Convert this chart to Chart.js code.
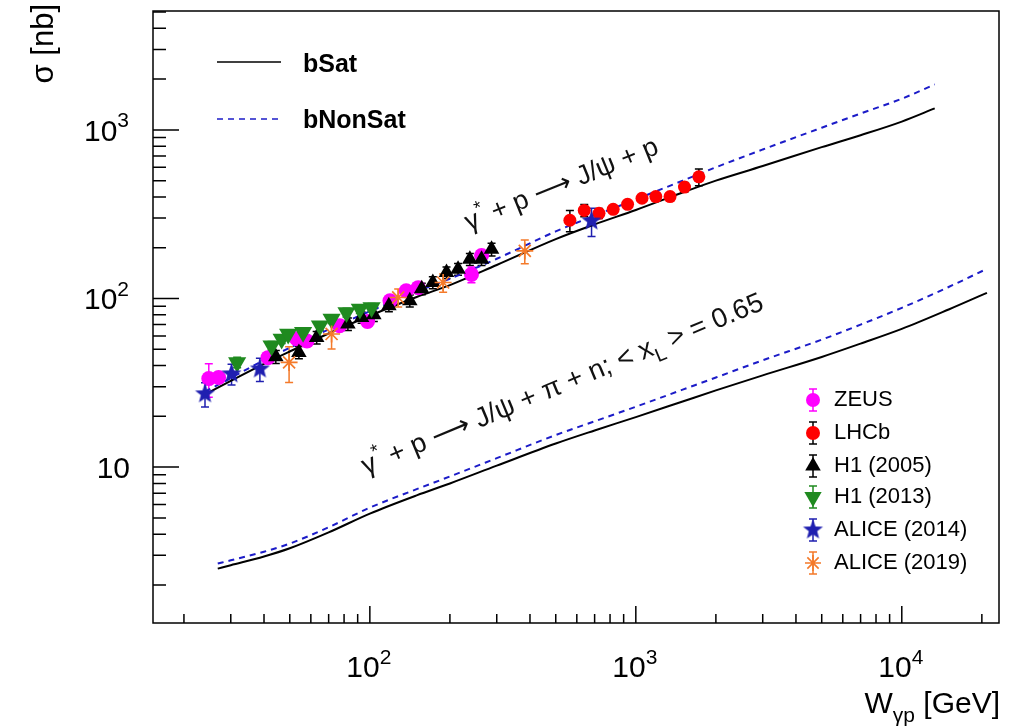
<!DOCTYPE html>
<html>
<head>
<meta charset="utf-8">
<script src="https://cdn.jsdelivr.net/npm/chart.js"></script>
<style>
  html, body { margin: 0; padding: 0; background: #fff; }
  #wrap { width: 1018px; height: 727px; }
</style>
</head>
<body>
<div id="wrap"><canvas id="chart"></canvas></div>
<script>
// ---- data (W in GeV, sigma in nb) ----
const upperW      = [24, 30, 40, 50, 70, 100, 150, 200, 300, 500, 700, 1000, 1500, 2000, 3000, 5000, 7000, 10000, 13300];
const upperSat    = [27, 32.5, 41, 48.5, 62, 79, 102, 120, 158, 225, 275, 335, 425, 500, 610, 790, 930, 1120, 1340];
const upperNonSat = [28, 33.8, 43, 51, 65.5, 84, 110, 131, 172, 250, 310, 387, 500, 600, 765, 1030, 1250, 1530, 1860];

const lowerW      = [26.8, 30, 40, 50, 70, 100, 150, 200, 300, 500, 700, 1000, 1500, 2000, 3000, 5000, 7000, 10000, 15000, 20900];
const lowerSat    = [2.5, 2.62, 2.95, 3.3, 4.1, 5.3, 6.8, 8.0, 10.2, 13.8, 16.5, 19.8, 24.5, 28.5, 35, 45, 54, 66, 86, 108];
const lowerNonSat = [2.68, 2.8, 3.15, 3.52, 4.4, 5.75, 7.4, 8.8, 11.3, 15.5, 18.7, 22.8, 28.8, 34, 43, 57, 70, 88, 117, 150];

const zeusW   = [24.8, 27, 41.4, 53, 58, 77, 98, 119, 137, 152, 241, 263];
const zeusSig = [33.5, 34, 44.6, 57.8, 56, 69, 73, 97, 111, 116, 139, 180];
const zeusErr = [7.5, 2.5, 3, 4, 4, 4.5, 5, 6, 7, 8, 15, 12];

const lhcbW   = [565, 640, 727, 822, 931, 1055, 1189, 1345, 1524, 1726];
const lhcbSig = [291, 333, 320, 338, 362, 393, 402, 402, 458, 527];
const lhcbErr = [42, 28, 22, 15, 15, 15, 17, 17, 30, 60];

const h105W   = [44.3, 54.1, 63.1, 82.7, 93.1, 103.5, 117.9, 141.3, 156.7, 172.5, 194.2, 214.6, 237.7, 263, 286.8];
const h105Sig = [45.2, 47.9, 58.8, 70.6, 77.2, 80.1, 90.5, 96.9, 114.1, 124.4, 142.5, 149.3, 171, 171, 195.9];
const h105Err = [4, 4, 5, 6, 6, 7, 7, 8, 9, 10, 11, 12, 14, 14, 17];

const h113W   = [31.7, 42.7, 46.6, 49.3, 56.1, 64.9, 71.8, 81.7, 91.7, 101.5];
const h113Sig = [41.8, 52.5, 57.5, 61.6, 63.0, 68.9, 75.5, 82.6, 86.5, 88.4];
const h113Err = [3, 3, 3.5, 3.5, 4, 4, 4.5, 5, 5, 5];

const al14W   = [24.0, 30.2, 38.6, 681.6];
const al14Sig = [27.2, 35.7, 38.2, 288];
const al14Err = [4.5, 5, 6, 55];

const al19W   = [49.7, 71.8, 127.8, 188.6, 382.4];
const al19Sig = [41.8, 61.6, 101.4, 124.4, 191.5];
const al19Err = [10, 11.5, 12.5, 15.5, 31];

const xMajorTicks = [100, 1000, 10000];
const xMinorTicks = [20, 30, 40, 50, 60, 70, 80, 90, 200, 300, 400, 500, 600, 700, 800, 900,
                     2000, 3000, 4000, 5000, 6000, 7000, 8000, 9000, 20000];
const xTickLabels = [["10", "2"], ["10", "3"], ["10", "4"]];
const yMajorTicks = [10, 100, 1000];
const yMinorTicks = [2, 3, 4, 5, 6, 7, 8, 9, 20, 30, 40, 50, 60, 70, 80, 90,
                     200, 300, 400, 500, 600, 700, 800, 900, 2000, 3000, 4000, 5000];
const yTickLabels = [["10", ""], ["10", "2"], ["10", "3"]];

const FONT = '"Liberation Sans", Arial, Helvetica, "DejaVu Sans", sans-serif';
const MAGENTA = "#ff00ff", RED = "#ff0000", GREEN = "#1f8a1f", BLUE = "#1f1fb0", ORANGE = "#f47a2a", DBLUE = "#1c1cc8";

const pts = (xs, ys) => xs.map((v, i) => ({x: v, y: ys[i]}));

// filled five-pointed star used for ALICE (2014)
function makeStar(r, color) {
    const c = document.createElement("canvas");
    c.width = c.height = Math.ceil(2 * r + 2);
    const g = c.getContext("2d");
    g.fillStyle = color;
    g.beginPath();
    for (let k = 0; k < 10; k++) {
        const rad = k % 2 ? r * 0.42 : r;
        const a = -Math.PI / 2 + k * Math.PI / 5;
        g.lineTo(c.width / 2 + rad * Math.cos(a), c.height / 2 + rad * Math.sin(a));
    }
    g.closePath();
    g.fill();
    return c;
}
const starImg = makeStar(10.5, BLUE);

function rich(ctx, x, y, parts, size, align, bold) {
    const w8 = bold ? "bold " : "";
    let total = 0;
    const seg = parts.map(([t, m]) => {
        const fs = m ? size * 0.7 : size;
        ctx.font = `${w8}${fs}px ${FONT}`;
        const w = ctx.measureText(t).width;
        total += w;
        return {t, m, fs, w};
    });
    let cx = align === "right" ? x - total : align === "center" ? x - total / 2 : x;
    seg.forEach(s => {
        ctx.font = `${w8}${s.fs}px ${FONT}`;
        const dy = s.m === "sup" ? -size * 0.45 : s.m === "sub" ? size * 0.3 : 0;
        ctx.fillText(s.t, cx, y + dy);
        cx += s.w;
    });
    return total;
}

function marker(ctx, kind, x, y, color) {
    ctx.fillStyle = color;
    ctx.strokeStyle = color;
    ctx.beginPath();
    if (kind === "circle") {
        ctx.arc(x, y, 7, 0, Math.PI * 2);
        ctx.fill();
    } else if (kind === "up" || kind === "down") {
        const r = kind === "up" ? 9 : 10, s = kind === "up" ? -1 : 1;
        for (let k = 0; k < 3; k++) {
            const a = k * 2 * Math.PI / 3;
            ctx.lineTo(x + Math.sin(a) * r, y + s * Math.cos(a) * r);
        }
        ctx.closePath();
        ctx.fill();
    } else if (kind === "star") {
        ctx.drawImage(starImg, x - starImg.width / 2, y - starImg.height / 2);
    } else {
        ctx.lineWidth = 1.6;
        for (let k = 0; k < 4; k++) {
            const a = k * Math.PI / 4;
            ctx.moveTo(x - 8 * Math.cos(a), y - 8 * Math.sin(a));
            ctx.lineTo(x + 8 * Math.cos(a), y + 8 * Math.sin(a));
        }
        ctx.stroke();
    }
}

const errorBars = {
    id: "errorBars",
    beforeDatasetsDraw(chart) {
        const {ctx, scales: {x, y}} = chart;
        ctx.save();
        ctx.lineWidth = 1.5;
        chart.data.datasets.forEach(ds => {
            if (!ds.errors) return;
            ctx.strokeStyle = ds.errorColor;
            ds.data.forEach((p, i) => {
                const px = x.getPixelForValue(p.x);
                const top = y.getPixelForValue(p.y + ds.errors[i]);
                const bot = y.getPixelForValue(p.y - ds.errors[i]);
                ctx.beginPath();
                ctx.moveTo(px, top); ctx.lineTo(px, bot);
                ctx.moveTo(px - 4, top); ctx.lineTo(px + 4, top);
                ctx.moveTo(px - 4, bot); ctx.lineTo(px + 4, bot);
                ctx.stroke();
            });
        });
        ctx.restore();
    }
};

const frameAndText = {
    id: "frameAndText",
    afterDraw(chart) {
        const {ctx, chartArea: a, scales: {x, y}} = chart;
        ctx.save();
        ctx.strokeStyle = "#000";
        ctx.fillStyle = "#000";
        ctx.lineWidth = 1.5;
        ctx.strokeRect(a.left, a.top, a.right - a.left, a.bottom - a.top);

        ctx.beginPath();
        xMajorTicks.forEach(v => { const p = x.getPixelForValue(v); ctx.moveTo(p, a.bottom); ctx.lineTo(p, a.bottom - 17); });
        xMinorTicks.forEach(v => { const p = x.getPixelForValue(v); ctx.moveTo(p, a.bottom); ctx.lineTo(p, a.bottom - 9); });
        yMajorTicks.forEach(v => { const p = y.getPixelForValue(v); ctx.moveTo(a.left, p); ctx.lineTo(a.left + 26, p); });
        yMinorTicks.forEach(v => { const p = y.getPixelForValue(v); ctx.moveTo(a.left, p); ctx.lineTo(a.left + 13, p); });
        ctx.stroke();

        ctx.textBaseline = "alphabetic";
        xMajorTicks.forEach((v, i) => {
            rich(ctx, x.getPixelForValue(v) - 1, 677, [[xTickLabels[i][0], ""], [xTickLabels[i][1], "sup"]], 30, "center");
        });
        yMajorTicks.forEach((v, i) => {
            const lab = yTickLabels[i];
            rich(ctx, lab[1] ? 129 : 130, y.getPixelForValue(v) + 11, lab[1] ? [[lab[0], ""], [lab[1], "sup"]] : [[lab[0], ""]], 30, "right");
        });

        // axis titles
        rich(ctx, 1000, 713, [["W", ""], ["γp", "sub"], [" [GeV]", ""]], 30, "right");
        ctx.save();
        ctx.translate(53, 4);
        ctx.rotate(-Math.PI / 2);
        rich(ctx, 0, 0, [["σ [nb]", ""]], 31, "right");
        ctx.restore();

        // top-left curve legend
        ctx.lineWidth = 1.5;
        ctx.beginPath(); ctx.moveTo(217, 62); ctx.lineTo(281, 62); ctx.stroke();
        ctx.strokeStyle = DBLUE;
        ctx.setLineDash([6, 5]);
        ctx.beginPath(); ctx.moveTo(217, 119); ctx.lineTo(281, 119); ctx.stroke();
        ctx.setLineDash([]);
        rich(ctx, 303, 72, [["bSat", ""]], 25, "left", true);
        rich(ctx, 303, 128, [["bNonSat", ""]], 25, "left", true);

        // process labels along the curves
        ctx.fillStyle = "#111";
        ctx.save();
        ctx.translate(469, 231);
        ctx.rotate(-22.2 * Math.PI / 180);
        rich(ctx, 0, 0, [["γ", ""], ["*", "sup"], [" + p ⟶ J/ψ + p", ""]], 27, "left");
        ctx.restore();
        ctx.save();
        ctx.translate(366, 475);
        ctx.rotate(-22.6 * Math.PI / 180);
        rich(ctx, 0, 0, [["γ", ""], ["*", "sup"], [" + p ⟶ J/ψ + π + n; < x", ""], ["L", "sub"], [" > = 0.65", ""]], 27.5, "left");
        ctx.restore();

        // data legend
        const rows = [
            ["ZEUS", "circle", MAGENTA, MAGENTA, 398],
            ["LHCb", "circle", RED, "#000", 431],
            ["H1 (2005)", "up", "#000", "#000", 464],
            ["H1 (2013)", "down", GREEN, GREEN, 495],
            ["ALICE (2014)", "star", BLUE, BLUE, 528],
            ["ALICE (2019)", "asterisk", ORANGE, ORANGE, 561]
        ];
        rows.forEach(([label, kind, col, ecol, ry]) => {
            const mx = 813, my = ry + 2;
            ctx.strokeStyle = ecol;
            ctx.lineWidth = 1.5;
            ctx.beginPath();
            ctx.moveTo(mx, my - 11); ctx.lineTo(mx, my + 11);
            ctx.moveTo(mx - 4, my - 11); ctx.lineTo(mx + 4, my - 11);
            ctx.moveTo(mx - 4, my + 11); ctx.lineTo(mx + 4, my + 11);
            ctx.stroke();
            marker(ctx, kind, mx, my, col);
            ctx.fillStyle = "#000";
            rich(ctx, 834, ry + 8, [[label, ""]], 22, "left");
        });
        ctx.restore();
    }
};

new Chart(document.getElementById("chart"), {
    type: "scatter",
    data: {
        datasets: [
            {label: "ALICE (2019)", data: pts(al19W, al19Sig), errors: al19Err, errorColor: ORANGE,
             pointStyle: "star", pointRadius: 8.5, borderColor: ORANGE, backgroundColor: ORANGE, pointBorderWidth: 1.7},
            {label: "ALICE (2014)", data: pts(al14W, al14Sig), errors: al14Err, errorColor: BLUE,
             pointStyle: starImg, pointRadius: 10, borderColor: BLUE, backgroundColor: BLUE},
            {label: "H1 (2013)", data: pts(h113W, h113Sig), errors: h113Err, errorColor: GREEN,
             pointStyle: "triangle", pointRotation: 180, pointRadius: 10.5, borderColor: GREEN, backgroundColor: GREEN, pointBorderWidth: 0},
            {label: "H1 (2005)", data: pts(h105W, h105Sig), errors: h105Err, errorColor: "#000",
             pointStyle: "triangle", pointRadius: 9, borderColor: "#000", backgroundColor: "#000", pointBorderWidth: 0},
            {label: "LHCb", data: pts(lhcbW, lhcbSig), errors: lhcbErr, errorColor: "#000",
             pointStyle: "circle", pointRadius: 6.5, borderColor: RED, backgroundColor: RED, pointBorderWidth: 0},
            {label: "ZEUS", data: pts(zeusW, zeusSig), errors: zeusErr, errorColor: MAGENTA,
             pointStyle: "circle", pointRadius: 7.5, borderColor: MAGENTA, backgroundColor: MAGENTA, pointBorderWidth: 0},
            {label: "bSat", data: pts(upperW, upperSat), showLine: true, pointRadius: 0,
             borderColor: "#000", borderWidth: 2, cubicInterpolationMode: "monotone"},
            {label: "bNonSat", data: pts(upperW, upperNonSat), showLine: true, pointRadius: 0,
             borderColor: DBLUE, borderWidth: 2, borderDash: [6, 5], cubicInterpolationMode: "monotone"},
            {label: "bSat xL", data: pts(lowerW, lowerSat), showLine: true, pointRadius: 0,
             borderColor: "#000", borderWidth: 2, cubicInterpolationMode: "monotone"},
            {label: "bNonSat xL", data: pts(lowerW, lowerNonSat), showLine: true, pointRadius: 0,
             borderColor: DBLUE, borderWidth: 2, borderDash: [6, 5], cubicInterpolationMode: "monotone"}
        ]
    },
    options: {
        responsive: true,
        maintainAspectRatio: false,
        animation: false,
        layout: {padding: {left: 153, right: 19, top: 9, bottom: 104}},
        scales: {
            x: {type: "logarithmic", min: 15.3, max: 23200, display: false},
            y: {type: "logarithmic", min: 1.19, max: 5070, display: false}
        },
        plugins: {legend: {display: false}, tooltip: {enabled: false}}
    },
    plugins: [errorBars, frameAndText]
});
</script>
</body>
</html>
